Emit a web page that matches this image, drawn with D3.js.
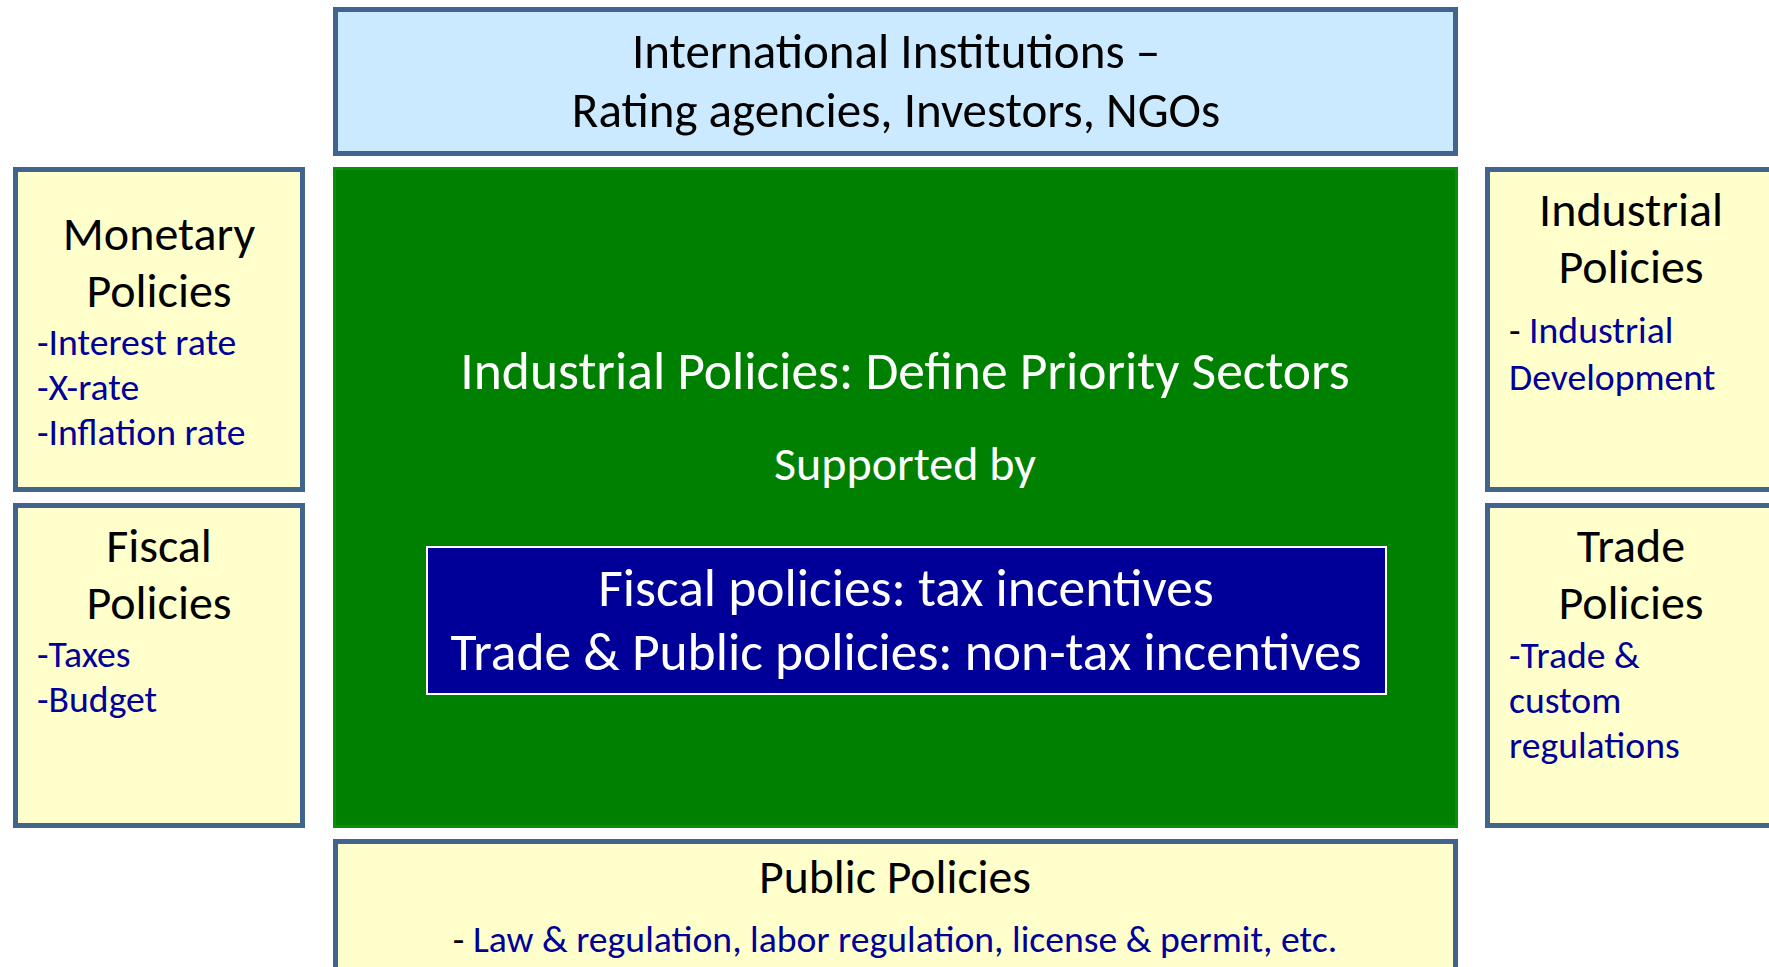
<!DOCTYPE html>
<html>
<head>
<meta charset="utf-8">
<script src="https://cdn.jsdelivr.net/npm/d3@7"></script>
<style>
  body { margin: 0; background: #fff; overflow: hidden; }
  svg text { font-family: Carlito, Calibri, Lato, sans-serif; }
</style>
</head>
<body>
<div id="diagram"></div>
<script>
// box titles and bullet items
var topLines = ["International Institutions \u2013", "Rating agencies, Investors, NGOs"];
var centerTitle = "Industrial Policies: Define Priority Sectors";
var centerSub = "Supported by";
var incentiveLines = ["Fiscal policies: tax incentives", "Trade & Public policies: non-tax incentives"];
var sideTitles = [["Monetary", "Policies"], ["Fiscal", "Policies"], ["Industrial", "Policies"], ["Trade", "Policies"]];
var sideItems = [
  ["-Interest rate", "-X-rate", "-Inflation rate"],
  ["-Taxes", "-Budget"],
  ["- |Industrial", "Development"],
  ["-Trade &", "custom", "regulations"]
];
var bottomTitle = "Public Policies";
var bottomItem = "- |Law & regulation, labor regulation, license & permit, etc.";

var svgWidth = 1769;
var svgHeight = 967;

var svg = d3.select("#diagram")
  .append("svg")
  .attr("width", svgWidth)
  .attr("height", svgHeight);

var edge = "#41648f";
var yellow = "#ffffcc";
var navy = "#000099";

// draw a rect from its outer bounds, stroke kept inside
function box(x0, y0, x1, y1, fill, stroke, sw) {
  svg.append("rect")
    .attr("x", x0 + sw / 2)
    .attr("y", y0 + sw / 2)
    .attr("width", x1 - x0 - sw)
    .attr("height", y1 - y0 - sw)
    .attr("fill", fill)
    .attr("stroke", stroke)
    .attr("stroke-width", sw);
}

function label(x, y, txt, size, color, anchor) {
  var t = svg.append("text")
    .attr("x", x)
    .attr("y", y)
    .attr("font-size", size + "px")
    .attr("text-anchor", anchor || "middle")
    .attr("fill", color);
  // "a |b" -> black dash then blue text
  var parts = txt.split("|");
  if (parts.length > 1) {
    t.append("tspan").attr("fill", "#000").text(parts[0]);
    t.append("tspan").text(parts[1]);
  } else {
    t.text(txt);
  }
  return t;
}

// top box
box(333, 7, 1458, 156, "#cceaff", edge, 5);
topLines.forEach(function(s, i) {
  label(896, 68 + i * 59, s, 49, "#000");
});

// green centre
box(333, 167, 1458, 828, "#008000", "#0a8f0a", 3);
label(905, 389, centerTitle, 53.5, "#fff");
label(905, 480, centerSub, 48, "#fff");

box(426, 546, 1387, 695, navy, "#fff", 2);
incentiveLines.forEach(function(s, i) {
  label(906, 606 + i * 64, s, 53.5, "#fff");
});

// side boxes: col 0 left, col 1 right; row 0 top, row 1 bottom
var colX = [13, 1485];
var rowY = [167, 503];
var sideW = 292;
var sideH = 325;

sideTitles.forEach(function(title, k) {
  var col = k < 2 ? 0 : 1;
  var row = k % 2;
  var x0 = colX[col], y0 = rowY[row];
  box(x0, y0, x0 + sideW, y0 + sideH, yellow, edge, 5);

  var headTop = (k === 0) ? 83 : 59;   // monetary title sits lower
  title.forEach(function(s, i) {
    label(x0 + sideW / 2, y0 + headTop + i * 57, s, 48, "#000");
  });

  var itemTop = headTop + 57 + (col === 0 ? 48 : (row === 0 ? 60 : 49));
  var itemGap = col === 0 ? 45 : (row === 0 ? 47 : 45);
  sideItems[k].forEach(function(s, i) {
    label(x0 + 24, y0 + itemTop + i * itemGap, s, 37.7, navy, "start");
  });
});

// bottom box
box(333, 839, 1458, 1010, yellow, edge, 5);
label(895, 893, bottomTitle, 47.7, "#000");
label(895, 952, bottomItem, 37.7, navy);
</script>
</body>
</html>
